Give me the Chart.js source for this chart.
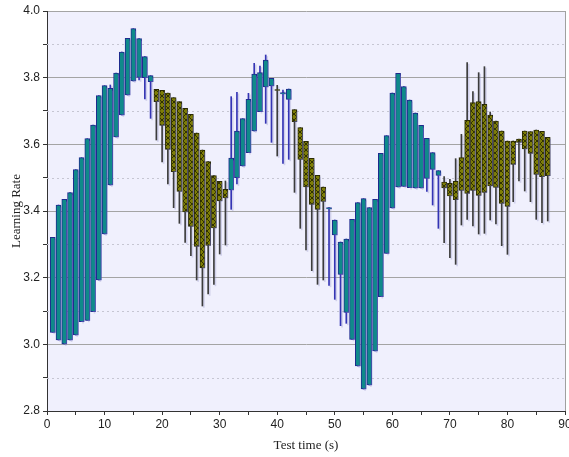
<!DOCTYPE html>
<html>
<head>
<meta charset="utf-8">
<script src="https://cdn.jsdelivr.net/npm/chart.js@4.4.0/dist/chart.umd.min.js"></script>
<style>
  html, body { margin: 0; padding: 0; background: #ffffff; }
  #wrap { width: 569px; height: 457px; }
</style>
</head>
<body>
<div id="wrap"><canvas id="c" width="569" height="457"></canvas></div>
<script>
// Test time (s) of each session
const times = [
  1, 2, 3, 4, 5, 6, 7, 8, 9, 10, 11, 12, 13, 14, 15, 16, 17, 18, 19, 20,
  21, 22, 23, 24, 25, 26, 27, 28, 29, 30, 31, 32, 33, 34, 35, 36, 37, 38, 39, 40,
  41, 42, 43, 44, 45, 46, 47, 48, 49, 50, 51, 52, 53, 54, 55, 56, 57, 58, 59, 60,
  61, 62, 63, 64, 65, 66, 67, 68, 69, 70, 71, 72, 73, 74, 75, 76, 77, 78, 79, 80,
  81, 82, 83, 84, 85, 86, 87
];

// Learning rate per session: open / high / low / close
const openRate = [
  3.036, 3.013, 3.001, 3.013, 3.028, 3.068, 3.072, 3.098, 3.193, 3.331,
  3.478, 3.622, 3.688, 3.748, 3.790, 3.801, 3.800, 3.788, 3.765, 3.762,
  3.754, 3.740, 3.728, 3.708, 3.690, 3.634, 3.583, 3.548, 3.506, 3.489,
  3.465, 3.463, 3.500, 3.535, 3.575, 3.640, 3.698, 3.772, 3.775, 3.764,
  3.751, 3.735, 3.704, 3.650, 3.609, 3.558, 3.507, 3.472, 3.406, 3.328,
  3.210, 3.096, 3.015, 2.935, 2.866, 2.878, 2.980, 3.143, 3.273, 3.409,
  3.472, 3.474, 3.470, 3.469, 3.469, 3.498, 3.525, 3.507, 3.487, 3.483,
  3.489, 3.560, 3.672, 3.725, 3.728, 3.720, 3.688, 3.670, 3.640, 3.610,
  3.610, 3.616, 3.640, 3.638, 3.643, 3.639, 3.621
];
const highRate = [
  3.321, 3.418, 3.435, 3.455, 3.524, 3.560, 3.617, 3.658, 3.746, 3.776,
  3.778, 3.814, 3.877, 3.918, 3.947, 3.917, 3.863, 3.806, 3.765, 3.762,
  3.754, 3.740, 3.728, 3.708, 3.690, 3.634, 3.583, 3.548, 3.506, 3.489,
  3.490, 3.743, 3.756, 3.677, 3.753, 3.843, 3.835, 3.868, 3.798, 3.777,
  3.763, 3.766, 3.704, 3.650, 3.609, 3.558, 3.507, 3.472, 3.410, 3.373,
  3.307, 3.316, 3.375, 3.425, 3.437, 3.410, 3.435, 3.573, 3.626, 3.754,
  3.813, 3.773, 3.733, 3.694, 3.657, 3.618, 3.575, 3.521, 3.503, 3.495,
  3.557, 3.630, 3.845, 3.758, 3.815, 3.833, 3.697, 3.670, 3.640, 3.610,
  3.610, 3.616, 3.640, 3.638, 3.643, 3.639, 3.621
];
const lowRate = [
  3.036, 3.013, 3.001, 3.013, 3.028, 3.068, 3.072, 3.098, 3.193, 3.331,
  3.478, 3.622, 3.688, 3.748, 3.790, 3.793, 3.736, 3.678, 3.613, 3.547,
  3.481, 3.410, 3.363, 3.306, 3.266, 3.193, 3.115, 3.151, 3.180, 3.271,
  3.298, 3.405, 3.481, 3.535, 3.575, 3.640, 3.698, 3.663, 3.606, 3.565,
  3.543, 3.555, 3.456, 3.348, 3.283, 3.221, 3.180, 3.193, 3.177, 3.135,
  3.056, 3.063, 3.015, 2.935, 2.866, 2.878, 2.980, 3.143, 3.273, 3.409,
  3.472, 3.474, 3.470, 3.469, 3.469, 3.459, 3.418, 3.348, 3.305, 3.260,
  3.240, 3.358, 3.375, 3.355, 3.331, 3.333, 3.373, 3.361, 3.296, 3.270,
  3.428, 3.490, 3.460, 3.428, 3.375, 3.365, 3.370
];
const closeRate = [
  3.321, 3.418, 3.435, 3.455, 3.524, 3.560, 3.617, 3.658, 3.746, 3.776,
  3.768, 3.814, 3.877, 3.918, 3.947, 3.917, 3.863, 3.806, 3.728, 3.657,
  3.585, 3.518, 3.459, 3.397, 3.354, 3.294, 3.229, 3.297, 3.349, 3.430,
  3.439, 3.559, 3.640, 3.677, 3.735, 3.811, 3.815, 3.853, 3.798, 3.762,
  3.755, 3.766, 3.668, 3.555, 3.472, 3.420, 3.405, 3.429, 3.410, 3.373,
  3.307, 3.316, 3.375, 3.425, 3.437, 3.410, 3.435, 3.573, 3.626, 3.754,
  3.813, 3.773, 3.733, 3.694, 3.657, 3.618, 3.575, 3.521, 3.469, 3.445,
  3.434, 3.462, 3.453, 3.462, 3.447, 3.456, 3.475, 3.471, 3.423, 3.414,
  3.540, 3.606, 3.586, 3.573, 3.510, 3.503, 3.506
];

// Axis ranges and tick spacing
const xRange = [0, 90];
const xMajorStep = 10;
const xMinorStep = 5;
const yRange = [2.8, 4.0];
const yMajorStep = 0.2;
const yMinorStep = 0.1;

const canvas = document.getElementById('c');
const ctx2d = canvas.getContext('2d');

// Cross-hatched olive fill for falling sessions
function makeHatch() {
  const p = document.createElement('canvas');
  p.width = 6; p.height = 6;
  const g = p.getContext('2d');
  g.fillStyle = '#7e7e06';
  g.fillRect(0, 0, 6, 6);
  g.strokeStyle = 'rgba(30,30,0,0.8)';
  g.lineWidth = 1;
  g.beginPath();
  g.moveTo(0, 0); g.lineTo(6, 6);
  g.moveTo(6, 0); g.lineTo(0, 6);
  g.stroke();
  return ctx2d.createPattern(p, 'repeat');
}
const hatch = makeHatch();

const rising = times.map((t, i) => closeRate[i] >= openRate[i]);

const bodyData = times.map((t, i) => ({ x: t, y: [openRate[i], closeRate[i]] }));
const wickData = times.map((t, i) => ({ x: t, y: [lowRate[i], highRate[i]] }));

const isMajor = (v, step) => Math.abs(v / step - Math.round(v / step)) < 1e-6;

// Plot background, minor dotted grid lines, right frame
const plotDecor = {
  id: 'plotDecor',
  beforeDraw(chart) {
    const { ctx, chartArea: a } = chart;
    ctx.save();
    ctx.fillStyle = '#f0f0fd';
    ctx.fillRect(a.left, a.top, a.right - a.left, a.bottom - a.top);
    ctx.restore();
  },
  beforeDatasetsDraw(chart) {
    const { ctx, chartArea: a, scales } = chart;
    const y = scales.y;
    ctx.save();
    ctx.strokeStyle = '#c6c6d2';
    ctx.lineWidth = 1;
    ctx.setLineDash([2, 3]);
    y.ticks.forEach(tk => {
      if (isMajor(tk.value, yMajorStep)) return;
      const py = Math.round(y.getPixelForValue(tk.value)) + 0.5;
      ctx.beginPath();
      ctx.moveTo(a.left, py);
      ctx.lineTo(a.right, py);
      ctx.stroke();
    });
    ctx.restore();
  }
};

// Soft drop shadow under boxes and wicks
const dropShadow = {
  id: 'dropShadow',
  beforeDatasetDraw(chart, args) {
    const ctx = chart.ctx;
    ctx.save();
    ctx.shadowColor = args.index === 0 ? 'rgba(150,150,200,0.35)' : 'rgba(110,110,200,0.5)';
    ctx.shadowOffsetX = 1.5;
    ctx.shadowOffsetY = 1.5;
    ctx.shadowBlur = 0;
  },
  afterDatasetDraw(chart) {
    chart.ctx.restore();
  }
};

new Chart(canvas, {
  type: 'bar',
  data: {
    datasets: [
      {
        label: 'range',
        data: wickData,
        order: 2,
        grouped: false,
        barThickness: 1,
        borderWidth: 0,
        backgroundColor: times.map((t, i) => rising[i] ? '#3434b4' : '#3c3c3c')
      },
      {
        label: 'body',
        data: bodyData,
        order: 1,
        grouped: false,
        barThickness: 5,
        borderWidth: 1,
        borderSkipped: false,
        backgroundColor: times.map((t, i) => rising[i] ? '#0f8a8a' : hatch),
        borderColor: times.map((t, i) => rising[i] ? '#1e2a8e' : '#2a2a05')
      }
    ]
  },
  options: {
    responsive: false,
    animation: false,
    devicePixelRatio: 1,
    layout: { padding: { left: 0, top: 11, right: 4, bottom: 0 } },
    plugins: {
      legend: { display: false },
      tooltip: { enabled: false }
    },
    scales: {
      x: {
        type: 'linear',
        min: xRange[0],
        max: xRange[1],
        offset: false,
        afterFit(s) { s.height = 46; s.paddingLeft = 0; s.paddingRight = 0; },
        ticks: {
          stepSize: xMinorStep,
          autoSkip: false,
          maxRotation: 0,
          padding: 2,
          color: '#222',
          font: { family: 'Liberation Sans', size: 12 },
          callback: v => isMajor(v, xMajorStep) ? String(v) : ''
        },
        grid: {
          offset: false,
          drawOnChartArea: true,
          color: c => (c.tick && c.tick.value === xRange[1]) ? '#a0a0a0' : 'rgba(0,0,0,0)',
          tickColor: '#333',
          tickLength: 4
        },
        border: { color: '#333', width: 1 },
        title: {
          display: true,
          text: 'Test time (s)',
          color: '#222',
          font: { family: 'Liberation Serif', size: 13 },
          padding: { top: 2, bottom: 4 }
        }
      },
      y: {
        min: yRange[0],
        max: yRange[1],
        afterFit(s) { s.width = 47; s.paddingTop = 0; s.paddingBottom = 0; },
        ticks: {
          stepSize: yMinorStep,
          autoSkip: false,
          padding: 3,
          color: '#222',
          font: { family: 'Liberation Sans', size: 12 },
          callback: v => isMajor(v, yMajorStep) ? v.toFixed(1) : ''
        },
        grid: {
          offset: false,
          color: c => (c.tick && isMajor(c.tick.value, yMajorStep)) ? '#a4a4a4' : 'rgba(0,0,0,0)',
          tickColor: '#333',
          tickLength: 4
        },
        border: { color: '#333', width: 1 },
        title: {
          display: true,
          text: 'Learning Rate',
          color: '#222',
          font: { family: 'Liberation Serif', size: 13 },
          padding: { top: 9, bottom: 0 }
        }
      }
    }
  },
  plugins: [plotDecor, dropShadow]
});
</script>
</body>
</html>
